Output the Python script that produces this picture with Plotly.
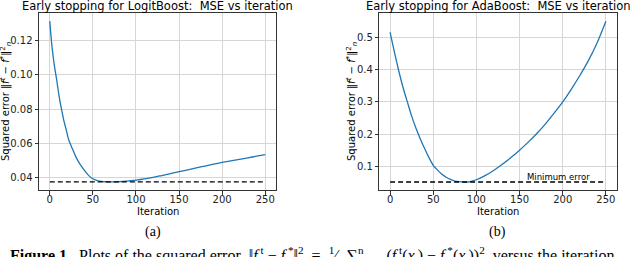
import plotly.graph_objects as go

# ---- data ----
logit_iter = [0, 2, 4, 6, 8, 10, 12, 14, 16, 18, 20, 22, 24, 27, 30, 35, 40, 45, 50, 55, 60, 65, 70, 75, 80,
              90, 100, 110, 120, 130, 140, 150, 160, 170, 180, 190, 200, 210, 220, 230, 240, 250]
logit_mse = [0.131, 0.119, 0.110, 0.103, 0.097, 0.090, 0.084, 0.079, 0.074, 0.070, 0.066, 0.062, 0.0595,
             0.056, 0.0525, 0.048, 0.0445, 0.0415, 0.0395, 0.0385, 0.0380, 0.0378, 0.0377, 0.0377, 0.0378,
             0.0382, 0.0387, 0.0394, 0.0403, 0.0414, 0.0425, 0.0436, 0.0447, 0.0458, 0.0469, 0.0480,
             0.0490, 0.0499, 0.0508, 0.0517, 0.0526, 0.0535]
logit_min = 0.0377

ada_iter = [0, 5, 10, 15, 20, 25, 30, 35, 40, 45, 50, 55, 60, 65, 70, 75, 80, 85, 90, 95, 100, 110, 120,
            130, 140, 150, 160, 170, 180, 190, 200, 210, 220, 230, 240, 250]
ada_mse = [0.516, 0.455, 0.397, 0.345, 0.300, 0.256, 0.218, 0.185, 0.155, 0.127, 0.103, 0.088, 0.075,
           0.066, 0.059, 0.054, 0.052, 0.051, 0.051, 0.054, 0.058, 0.071, 0.087, 0.106, 0.127, 0.150,
           0.175, 0.202, 0.232, 0.265, 0.300, 0.340, 0.383, 0.430, 0.485, 0.551]
ada_min = 0.051

x_ticks = [0, 50, 100, 150, 200, 250]
left_yticks = [0.04, 0.06, 0.08, 0.10, 0.12]
right_yticks = [0.1, 0.2, 0.3, 0.4, 0.5]

titles = ["Early stopping for LogitBoost:  MSE vs iteration",
          "Early stopping for AdaBoost:  MSE vs iteration"]
ylabel = "Squared error ‖<i>f</i><sup><i>t</i></sup> − <i>f</i><sup>*</sup>‖<sup>2</sup><sub><i>n</i></sub>"
caption = ("<b>Figure 1.</b>  Plots of the squared error  ‖<i>f</i><sup> t</sup> − <i>f</i><sup> *</sup>‖<sup>2</sup>  =  "
           "<sup>1</sup>⁄<sub>n</sub> ∑<sup>n</sup><sub>i=1</sub>  (<i>f</i><sup> t</sup>(<i>x<sub>i</sub></i>) − "
           "<i>f</i><sup> *</sup>(<i>x<sub>i</sub></i>))<sup>2</sup>  versus the iteration")

W, H = 640, 257
BLUE = "#1f77b4"
FONT = "DejaVu Sans"

def px_x(v):
    return v / W

def px_y(v):
    return (H - v) / H

fig = go.Figure()
fig.add_trace(go.Scatter(x=logit_iter, y=logit_mse, mode="lines",
                         line=dict(color=BLUE, width=1.3, shape="spline", smoothing=0.6),
                         xaxis="x", yaxis="y", showlegend=False, hoverinfo="skip"))
fig.add_trace(go.Scatter(x=[0, 250], y=[logit_min, logit_min], mode="lines",
                         line=dict(color="black", width=1.3, dash="5px,3px"),
                         xaxis="x", yaxis="y", showlegend=False, hoverinfo="skip"))
fig.add_trace(go.Scatter(x=ada_iter, y=ada_mse, mode="lines",
                         line=dict(color=BLUE, width=1.3, shape="spline", smoothing=0.6),
                         xaxis="x2", yaxis="y2", showlegend=False, hoverinfo="skip"))
fig.add_trace(go.Scatter(x=[0, 250], y=[ada_min, ada_min], mode="lines",
                         line=dict(color="black", width=1.3, dash="5px,3px"),
                         xaxis="x2", yaxis="y2", showlegend=False, hoverinfo="skip"))

axis_common = dict(showline=True, linecolor="#333333", linewidth=1, mirror=True,
                   showgrid=True, gridcolor="#d6d6d6", gridwidth=1, zeroline=False,
                   ticks="outside", ticklen=3.5, tickwidth=1, tickcolor="#333333",
                   tickfont=dict(family=FONT, size=10, color="#222222"))

ydom = [px_y(190), px_y(13)]
fig.update_layout(
    width=W, height=H, margin=dict(l=0, r=0, t=0, b=0),
    paper_bgcolor="white", plot_bgcolor="white",
    xaxis=dict(domain=[px_x(39), px_x(276)], range=[-12.5, 262.5], tickvals=x_ticks,
               anchor="y", ticklabelstandoff=-4, **axis_common),
    yaxis=dict(domain=ydom, range=[0.0330, 0.1357], tickvals=left_yticks, tickformat=".2f",
               anchor="x", **axis_common),
    xaxis2=dict(domain=[px_x(379.3), px_x(616.7)], range=[-12.5, 262.5], tickvals=x_ticks,
                anchor="y2", ticklabelstandoff=-4, **axis_common),
    yaxis2=dict(domain=ydom, range=[0.0262, 0.5765], tickvals=right_yticks, tickformat=".1f",
                anchor="x2", **axis_common),
)

ann = []
for cx, t in [(157.5, titles[0]), (498, titles[1])]:
    ann.append(dict(x=px_x(cx), y=px_y(6), xref="paper", yref="paper", text=t, showarrow=False,
                    xanchor="center", yanchor="middle", font=dict(family=FONT, size=11.5, color="black")))
for cx in [157.5, 498]:
    ann.append(dict(x=px_x(cx), y=px_y(211), xref="paper", yref="paper", text="Iteration", showarrow=False,
                    xanchor="center", yanchor="middle", font=dict(family=FONT, size=10, color="black")))
for lx in [6, 352]:
    ann.append(dict(x=px_x(lx), y=px_y(102), xref="paper", yref="paper", text=ylabel, showarrow=False,
                    textangle=-90, xanchor="center", yanchor="middle",
                    font=dict(family=FONT, size=10, color="black")))
for cx, t in [(153, "(a)"), (497, "(b)")]:
    ann.append(dict(x=px_x(cx), y=px_y(232), xref="paper", yref="paper", text=t, showarrow=False,
                    xanchor="center", yanchor="middle",
                    font=dict(family="Liberation Serif", size=14, color="black")))
ann.append(dict(x=195, y=0.068, xref="x2", yref="y2", text="Minimum error", showarrow=False,
                xanchor="center", yanchor="middle", font=dict(family=FONT, size=8.5, color="black")))
ann.append(dict(x=px_x(8), y=px_y(255), xref="paper", yref="paper", text=caption, showarrow=False,
                xanchor="left", yanchor="middle", font=dict(family="Liberation Serif", size=16, color="black")))
fig.update_layout(annotations=ann)

fig.write_html("out.html", config={"displayModeBar": False},
               post_script="document.body.style.margin='0';")
